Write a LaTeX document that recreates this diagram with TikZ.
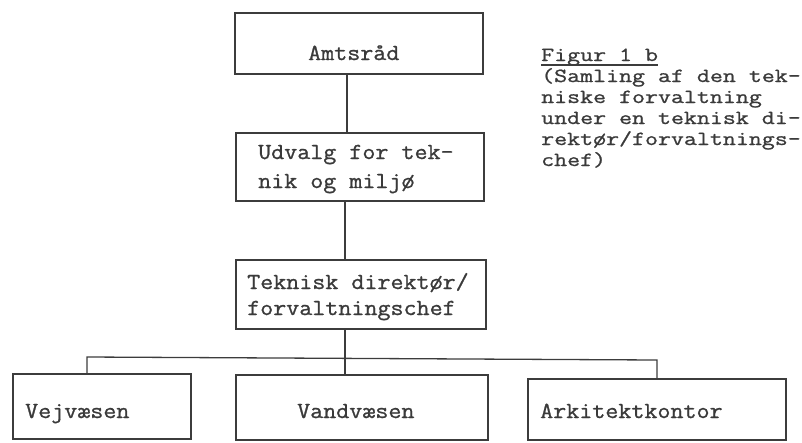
\documentclass[tikz,border=0pt]{standalone}
\usepackage{fontspec}
\newfontfamily\twfont{Latin Modern Mono}[FakeBold=1,FakeStretch=1.1]
\newfontfamily\capfont{Latin Modern Mono}[FakeBold=1,FakeStretch=1.26]
\definecolor{ink}{HTML}{3C3C3C}
\definecolor{txt}{HTML}{3A3A3A}
\begin{document}
\begin{tikzpicture}[x=1pt,y=-1pt,
  box/.style={draw=ink, line width=2.2pt, anchor=north west, inner sep=0pt},
  conn/.style={draw=ink, line width=1.3pt},
  lbl/.style={anchor=base west, inner sep=0pt, text=txt, text height=13pt, text depth=5pt,
    font=\twfont\fontsize{23}{23}\selectfont},
  caplbl/.style={lbl, font=\capfont\fontsize{20}{20}\selectfont}]
\useasboundingbox (0,0) rectangle (802,442);
% boxes
\node[box, minimum width=248pt, minimum height=61pt] (amt) at (234,12) {};
\node[box, minimum width=248pt, minimum height=68pt] (udv) at (235,132) {};
\node[box, minimum width=250pt, minimum height=69pt] (tek) at (235,259) {};
\node[box, minimum width=178pt, minimum height=65pt] (vej) at (12,373) {};
\node[box, minimum width=252pt, minimum height=65pt] (vand) at (235,374) {};
\node[box, minimum width=258pt, minimum height=61pt] (ark) at (527,378) {};
% texts
\node[lbl] (tamt) at (308,60) {Amtsråd};
\node[lbl] (tudv1) at (258,159) {Udvalg for tek-};
\node[lbl] (tudv2) at (258,188) {nik og miljø};
\node[lbl] (ttek1) at (247,289) {Teknisk direktør/};
\node[lbl] (ttek2) at (247,315) {forvaltningschef};
\node[lbl] (tvej) at (25,418) {Vejvæsen};
\node[lbl] (tvand) at (297,418) {Vandvæsen};
\node[lbl] (tark) at (540,418) {Arkitektkontor};
% caption
\node[caplbl] (fig) at (541,61) {Figur 1 b};
\draw[conn, line width=1.2pt] ([yshift=-4pt]fig.base west) -- ([yshift=-4pt]fig.base east);
\node[caplbl] (cap1) at (541,82) {(Samling af den tek-};
\node[caplbl] (cap2) at (541,103) {niske forvaltning};
\node[caplbl] (cap3) at (541,124) {under en teknisk di-};
\node[caplbl] (cap4) at (541,145) {rektør/forvaltnings-};
\node[caplbl] (cap5) at (541,166) {chef)};
% connectors
\coordinate (x1) at (347,0);
\coordinate (x2) at (345,0);
\draw[conn] (amt.south -| x1) -- (udv.north -| x1);
\draw[conn] (udv.south -| x2) -- (tek.north -| x2);
\draw[conn] (tek.south -| x2) -- (vand.north -| x2);
\coordinate (busL) at (87,357);
\coordinate (busR) at (657,360);
\draw[conn] (vej.north -| busL) -- (busL) -- (busR) -- (ark.north -| busR);
\end{tikzpicture}
\end{document}
